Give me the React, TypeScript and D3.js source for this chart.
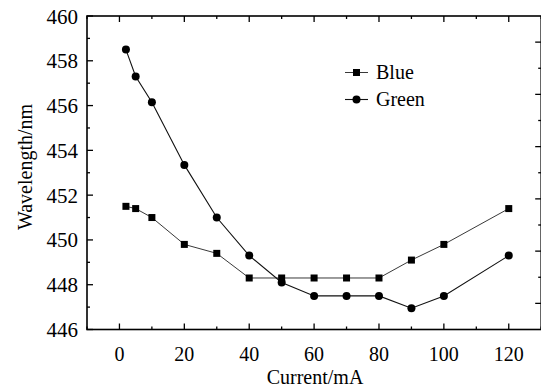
import React, { useRef, useEffect } from 'react';
import * as d3 from 'd3';

const current = [2, 5, 10, 20, 30, 40, 50, 60, 70, 80, 90, 100, 120];
const blue = [451.5, 451.4, 451.0, 449.8, 449.4, 448.3, 448.3, 448.3, 448.3, 448.3, 449.1, 449.8, 451.4];
const green = [458.5, 457.3, 456.15, 453.35, 451.0, 449.3, 448.1, 447.5, 447.5, 447.5, 446.95, 447.5, 449.3];
const xTicks = [0, 20, 40, 60, 80, 100, 120];
const xMinor = [-10, 10, 30, 50, 70, 90, 110, 130];
const yTicks = [446, 448, 450, 452, 454, 456, 458, 460];
const yMinor = [447, 449, 451, 453, 455, 457, 459];
const rightMajor = [1, 3, 5, 7, 9, 11];
const rightMinor = [2, 4, 6, 8, 10];

export default function App() {
  const svgRef = useRef<SVGSVGElement>(null);

  useEffect(() => {
    const w = 541;
    const h = 390;
    const left = 87;
    const top = 16;
    const bottom = 329.5;
    const right = 541.2;
    const font = "'Liberation Serif', 'Times New Roman', serif";

    const svg = d3.select(svgRef.current);
    svg.selectAll('*').remove();
    svg.attr('width', w).attr('height', h);

    const x = d3.scaleLinear().domain([-10, 130]).range([left, right]);
    const y = d3.scaleLinear().domain([446, 460]).range([bottom, top]);
    // right axis has its own unlabeled tick spacing
    const yr = d3.scaleLinear().domain([0, 12]).range([bottom, top]);

    svg.append('rect').attr('width', w).attr('height', h).attr('fill', 'white');

    // ticks, all pointing inward
    const g = svg.append('g').attr('stroke', 'black').attr('stroke-width', 1.3);
    const tick = (x1: number, y1: number, x2: number, y2: number) =>
      g.append('line').attr('x1', x1).attr('y1', y1).attr('x2', x2).attr('y2', y2);

    xTicks.forEach(t => {
      tick(x(t), bottom, x(t), bottom - 6);
      tick(x(t), top, x(t), top + 6);
    });
    xMinor.forEach(t => {
      tick(x(t), bottom, x(t), bottom - 3);
      tick(x(t), top, x(t), top + 3);
    });
    yTicks.forEach(t => tick(left, y(t), left + 6, y(t)));
    yMinor.forEach(t => tick(left, y(t), left + 3, y(t)));
    rightMajor.forEach(t => tick(right, yr(t), right - 6, yr(t)));
    rightMinor.forEach(t => tick(right, yr(t), right - 3, yr(t)));

    // frame
    svg.append('rect')
      .attr('x', left).attr('y', top)
      .attr('width', right - left).attr('height', bottom - top)
      .attr('fill', 'none').attr('stroke', 'black').attr('stroke-width', 1.6);

    const txt = svg.append('g').style('font-family', font).attr('fill', 'black');

    // tick labels
    txt.append('g').selectAll('text').data(xTicks).join('text')
      .attr('x', d => x(d)).attr('y', 361)
      .attr('text-anchor', 'middle')
      .style('font-size', '20px')
      .text(d => d);

    txt.append('g').selectAll('text').data(yTicks).join('text')
      .attr('x', 78).attr('y', d => y(d) + 7.5)
      .attr('text-anchor', 'end')
      .style('font-size', '21px')
      .text(d => d);

    // axis titles
    txt.append('text')
      .attr('x', 315).attr('y', 384)
      .attr('text-anchor', 'middle')
      .style('font-size', '20px')
      .text('Current/mA');

    txt.append('text')
      .attr('transform', 'translate(32, 167) rotate(-90)')
      .attr('text-anchor', 'middle')
      .style('font-size', '20px')
      .text('Wavelength/nm');

    // lines
    const line = d3.line<number>().x((d, i) => x(current[i])).y(d => y(d));
    svg.append('path').attr('d', line(blue)).attr('fill', 'none')
      .attr('stroke', '#222').attr('stroke-width', 0.9);
    svg.append('path').attr('d', line(green)).attr('fill', 'none')
      .attr('stroke', '#111').attr('stroke-width', 1.1);

    // markers
    svg.append('g').selectAll('rect').data(blue).join('rect')
      .attr('x', (d, i) => x(current[i]) - 3.5).attr('y', d => y(d) - 3.5)
      .attr('width', 7).attr('height', 7).attr('fill', 'black');
    svg.append('g').selectAll('circle').data(green).join('circle')
      .attr('cx', (d, i) => x(current[i])).attr('cy', d => y(d))
      .attr('r', 4).attr('fill', 'black');

    // legend
    const lg = svg.append('g');
    lg.append('line').attr('x1', 345).attr('x2', 368).attr('y1', 72.5).attr('y2', 72.5)
      .attr('stroke', '#222').attr('stroke-width', 0.9);
    lg.append('rect').attr('x', 353).attr('y', 69).attr('width', 7).attr('height', 7).attr('fill', 'black');
    txt.append('text').attr('x', 376).attr('y', 79)
      .style('font-size', '20px').text('Blue');
    lg.append('line').attr('x1', 345).attr('x2', 368).attr('y1', 99.5).attr('y2', 99.5)
      .attr('stroke', '#111').attr('stroke-width', 1.1);
    lg.append('circle').attr('cx', 356.5).attr('cy', 99.5).attr('r', 4).attr('fill', 'black');
    txt.append('text').attr('x', 376).attr('y', 106)
      .style('font-size', '20px').text('Green');
  }, []);

  return (
    <div style={{ position: 'absolute', left: 0, top: 0 }}>
      <svg ref={svgRef} style={{ display: 'block' }}></svg>
    </div>
  );
}
